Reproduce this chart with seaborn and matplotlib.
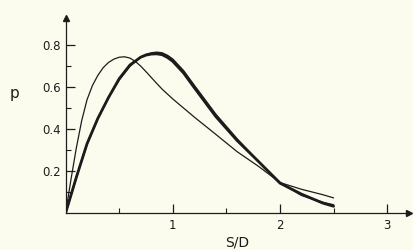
import numpy as np
import pandas as pd
import matplotlib.pyplot as plt
import seaborn as sns

# values
sd_thin = [0.0, 0.05, 0.1, 0.15, 0.2, 0.25, 0.3, 0.35, 0.4, 0.45, 0.5, 0.55, 0.6,
           0.65, 0.7, 0.75, 0.8, 0.85, 0.9, 1.0, 1.1, 1.2, 1.4, 1.6, 1.8, 2.0,
           2.2, 2.4, 2.5]
p_thin = [0.0, 0.16, 0.31, 0.44, 0.54, 0.607, 0.655, 0.692, 0.717, 0.733, 0.742,
          0.744, 0.738, 0.722, 0.70, 0.673, 0.645, 0.617, 0.59, 0.543, 0.50,
          0.457, 0.375, 0.292, 0.222, 0.145, 0.113, 0.087, 0.072]

sd_thick = [0.0, 0.1, 0.2, 0.3, 0.4, 0.5, 0.6, 0.7, 0.75, 0.8, 0.85, 0.9, 0.95,
            1.0, 1.1, 1.2, 1.4, 1.6, 1.8, 2.0, 2.2, 2.4, 2.5]
p_heavy = [0.0, 0.17, 0.33, 0.45, 0.55, 0.64, 0.705, 0.742, 0.752, 0.757, 0.758,
           0.754, 0.741, 0.722, 0.667, 0.597, 0.46, 0.345, 0.245, 0.142, 0.09,
           0.047, 0.032]
p_medium = [0.0, 0.17, 0.33, 0.45, 0.55, 0.635, 0.70, 0.743, 0.755, 0.762, 0.765,
            0.762, 0.75, 0.732, 0.677, 0.607, 0.47, 0.352, 0.245, 0.145, 0.085,
            0.05, 0.038]

x_major = [1, 2, 3]
x_minor = [0.5, 1.5, 2.5]
y_major = [0.2, 0.4, 0.6, 0.8]
y_minor = [0.1, 0.3, 0.5, 0.7]

paper = "#fcfcee"
ink = "#1c1c1c"

sns.set_theme(style="ticks")
plt.rcParams["font.family"] = ["DejaVu Sans"]

fig = plt.figure(figsize=(4.14, 2.5), dpi=100, facecolor=paper)
ax = fig.add_axes([0.1585, 0.148, 0.8286, 0.781])
ax.set_facecolor(paper)

df_thin = pd.DataFrame({"sd": sd_thin, "p": p_thin})
df_thick = pd.DataFrame({"sd": sd_thick, "heavy": p_heavy, "medium": p_medium})

sns.lineplot(data=df_thin, x="sd", y="p", ax=ax, color=ink, lw=0.9)
sns.lineplot(data=df_thick, x="sd", y="medium", ax=ax, color=ink, lw=1.3)
sns.lineplot(data=df_thick, x="sd", y="heavy", ax=ax, color=ink, lw=2.0)

ax.set_xlim(0, 3.2)
ax.set_ylim(0, 0.93)
sns.despine(ax=ax)
for side in ("left", "bottom"):
    ax.spines[side].set_color(ink)
    ax.spines[side].set_linewidth(0.9)

# arrow heads at the ends of the axes
ax.plot(1, 0, ">", color=ink, ms=5, transform=ax.get_yaxis_transform(), clip_on=False)
ax.plot(0, 1, "^", color=ink, ms=5, transform=ax.get_xaxis_transform(), clip_on=False)

ax.set_xticks(x_major)
ax.set_xticks(x_minor, minor=True)
ax.set_yticks(y_major)
ax.set_yticks(y_minor, minor=True)
ax.set_xticklabels([str(v) for v in x_major])
ax.set_yticklabels([f"{v:.1f}" for v in y_major])
ax.tick_params(which="major", direction="in", length=6.5, width=0.9, color=ink,
               labelsize=8.5, labelcolor=ink)
ax.tick_params(which="minor", direction="in", length=3.5, width=0.8, color=ink)
ax.tick_params(axis="x", which="major", pad=4)
ax.tick_params(axis="y", which="major", pad=3.5)

ax.set_xlabel("S/D", fontsize=10, color=ink, labelpad=3)
ax.set_ylabel("")
fig.text(0.035, 0.625, "p", fontsize=11, color=ink, ha="center", va="center")

fig.savefig("out.png", dpi=100, facecolor=paper)
